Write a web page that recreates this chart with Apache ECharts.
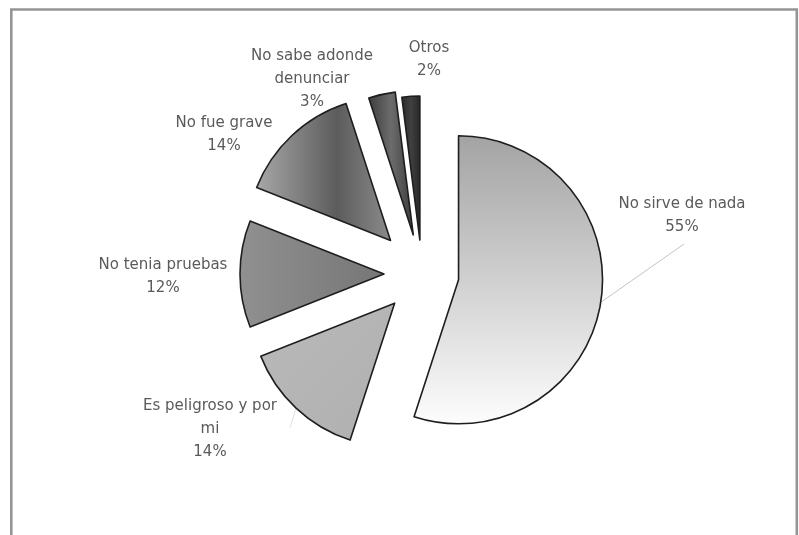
<!DOCTYPE html>
<html>
<head>
<meta charset="utf-8">
<script src="https://cdn.jsdelivr.net/npm/echarts@6/dist/echarts.min.js"></script>
<style>
  html, body { margin: 0; padding: 0; background: #ffffff; }
  #chart { width: 799px; height: 535px; }
</style>
</head>
<body>
<div id="chart"></div>
<script>
// Reasons for not reporting (share of answers, %)
const categories = ['No sirve de nada', 'Es peligroso y por mi', 'No tenia pruebas', 'No fue grave', 'No sabe adonde denunciar', 'Otros'];
const values = [55, 14, 12, 14, 3, 2];

// Printed line breaks of the slice captions
const captionBreaks = {
  'Es peligroso y por mi': 'Es peligroso y por\nmi',
  'No sabe adonde denunciar': 'No sabe adonde\ndenunciar'
};

// Layout and styling
const pieCenter = [422, 274];
const pieRadius = 144;
const explode = [37, 40, 38, 46, 40, 34];          // outward shift of each slice, px
const labelAnchor = [[682, 193], [210, 395], [163, 254], [224, 112], [312, 45], [429, 37]];
const leaderEnd = { 0: [684, 244], 1: [290, 428] };
const fills = [
  { x: 0, y: 0, x2: 0, y2: 1, stops: [[0, '#a3a3a3'], [0.5, '#d0d0d0'], [1, '#fdfdfd']] },
  { x: 0, y: 0, x2: 1, y2: 1, stops: [[0, '#b9b9b9'], [1, '#b0b0b0']] },
  { x: 0, y: 0, x2: 1, y2: 0, stops: [[0, '#909090'], [1, '#767676']] },
  { x: 0, y: 0, x2: 1, y2: 0, stops: [[0, '#a8a8a8'], [0.6, '#5c5c5c'], [1, '#8c8c8c']] },
  { x: 0, y: 0, x2: 1, y2: 0, stops: [[0, '#3c3c3c'], [0.5, '#6c6c6c'], [1, '#3a3a3a']] },
  { x: 0, y: 0, x2: 1, y2: 0, stops: [[0, '#2a2a2a'], [0.5, '#404040'], [1, '#262626']] }
];

function gradient(f) {
  return new echarts.graphic.LinearGradient(f.x, f.y, f.x2, f.y2,
    f.stops.map(s => ({ offset: s[0], color: s[1] })));
}

// Mid-angle of every slice (clockwise from 12 o'clock), used to push it outward
const total = values.reduce((a, b) => a + b, 0);
let acc = 0;
const midAngles = values.map(v => {
  const m = (acc + v / 2) / total * 2 * Math.PI;
  acc += v;
  return m;
});

// One pie per slice: every pie holds the full data so angles come from the
// library, but only its own slice is painted, at its own exploded centre.
const series = categories.map((name, i) => ({
  type: 'pie',
  silent: true,
  animation: false,
  startAngle: 90,
  clockwise: true,
  radius: pieRadius,
  center: [
    pieCenter[0] + explode[i] * Math.sin(midAngles[i]),
    pieCenter[1] - explode[i] * Math.cos(midAngles[i])
  ],
  emphasis: { disabled: true },
  data: categories.map((c, j) => {
    const own = j === i;
    return {
      name: c,
      value: values[j],
      itemStyle: own
        ? { color: gradient(fills[j]), borderColor: '#1e1e1e', borderWidth: 1.6 }
        : { color: 'rgba(0,0,0,0)', borderWidth: 0 },
      label: { show: own },
      labelLine: {
        show: own && leaderEnd[j] !== undefined,
        lineStyle: { color: j === 0 ? '#c4c4c4' : '#e2e2e2', width: 1 }
      }
    };
  }),
  label: {
    position: 'outside',
    fontFamily: 'DejaVu Sans',
    fontSize: 15,
    lineHeight: 23,
    color: '#5a5a5a',
    align: 'center',
    formatter: p => (captionBreaks[p.name] || p.name) + '\n' + p.value + '%'
  },
  labelLayout: params => {
    const k = params.dataIndex;
    const out = {
      x: labelAnchor[k][0],
      y: labelAnchor[k][1],
      align: 'center',
      verticalAlign: 'top'
    };
    if (leaderEnd[k] && params.labelLinePoints) {
      out.labelLinePoints = [params.labelLinePoints[0], leaderEnd[k]];
    }
    return out;
  }
}));

const chart = echarts.init(document.getElementById('chart'), null, { renderer: 'canvas' });
chart.setOption({
  backgroundColor: '#ffffff',
  animation: false,
  graphic: [{
    type: 'rect',
    silent: true,
    shape: { x: 11.3, y: 9.5, width: 785.5, height: 560 },
    style: { fill: 'none', stroke: '#959595', lineWidth: 2.6 }
  }],
  series: series
});
</script>
</body>
</html>
